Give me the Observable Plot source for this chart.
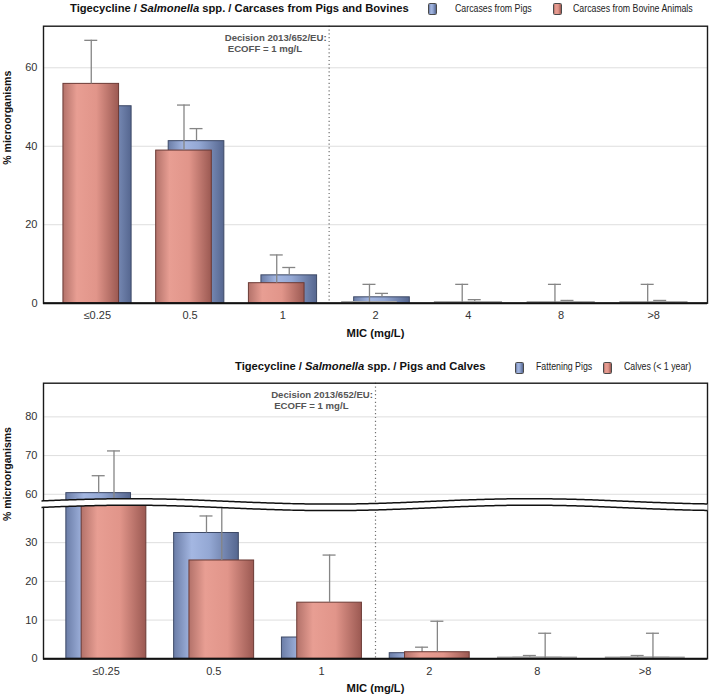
<!DOCTYPE html>
<html>
<head>
<meta charset="utf-8">
<script src="https://cdn.jsdelivr.net/npm/d3@7"></script>
<script src="https://cdn.jsdelivr.net/npm/@observablehq/plot@0.6"></script>
<style>
  html, body { margin: 0; padding: 0; background: #fff; overflow: hidden; }
  #root { position: relative; width: 709px; height: 698px; font-family: "Liberation Sans", Arial, sans-serif; }
  .title { position: absolute; font-weight: bold; font-size: 11.2px; line-height: 11.2px; color: #111; white-space: nowrap; }
  .leg { position: absolute; color: #222; white-space: nowrap; transform-origin: 0 50%; }
  .sw { position: absolute; width: 7px; height: 10px; border: 1px solid #4a4a4a; border-radius: 1.5px; }
</style>
</head>
<body>
<div id="root"></div>
<script>
// ---------------- data ----------------
const micTop = ["≤0.25", "0.5", "1", "2", "4", "8", ">8"];
const carcPigs        = [50.2, 41.3, 7.1, 1.5, 0, 0, 0];
const carcPigsUpper   = [53.0, 44.5, 9.1, 2.5, 0.9, 0.7, 0.7];
const carcBovine      = [55.9, 38.9, 5.1, 0, 0, 0, 0];
const carcBovineUpper = [67.0, 50.5, 12.3, 4.8, 4.8, 4.8, 4.8];
const yTicksTop = [0, 20, 40, 60];

const micBottom = ["≤0.25", "0.5", "1", "2", "8", ">8"];
const fattPigs      = [60.3, 32.5, 5.5, 1.45, 0, 0];
const fattPigsUpper = [64.8, 36.9, 10.0, 3.0, 0.85, 0.85];
const calves        = [57.8, 25.4, 14.5, 1.7, 0, 0];
const calvesUpper   = [71.2, 44.0, 26.8, 9.7, 6.6, 6.6];
const yTicksBottom = [0, 10, 20, 30, 60, 70, 80];
const axisBreak = [39.5, 57];   // hidden value range of the broken axis

const titleTopText = ["Tigecycline / ", "Salmonella", " spp. / Carcases from Pigs and Bovines"];
const titleBottomText = ["Tigecycline / ", "Salmonella", " spp. / Pigs and Calves"];
const legendTop = ["Carcases from Pigs", "Carcases from Bovine Animals"];
const legendBottom = ["Fattening Pigs", "Calves (< 1 year)"];
const ecoffLines = ["Decision 2013/652/EU:", "ECOFF = 1 mg/L"];
const xLabel = "MIC (mg/L)";
const yLabel = "% microorganisms";

// ---------------- style ----------------
const W = 709, ML = 43, MR = 2, PO = 0.08;
const colors = {
  blue: { stops: [[0, "#6b7da7"], [0.28, "#a4b7e2"], [0.55, "#94a8d4"], [1, "#55668f"]], stroke: "#3d4966" },
  red:  { stops: [[0, "#b3726a"], [0.25, "#e89e93"], [0.6, "#e1958a"], [1, "#9b5952"]], stroke: "#6b3a35" }
};
const cssGrad = c => `linear-gradient(to right, ${colors[c].stops.map(([o, col]) => `${col} ${o * 100}%`).join(", ")})`;
const root = document.getElementById("root");

// broken-axis transform (identity when no break)
function makeBreak(b) {
  if (!b) return { f: v => v, inv: v => v };
  const [a, c] = b, gap = c - a;
  return {
    f: v => v <= a ? v : v < c ? a : v - gap,
    inv: t => t <= a ? t : t + gap
  };
}

function buildPanel({ mic, layers, yTicks, height, marginTop, marginBottom, yMax, prefix, brk }) {
  const n = mic.length;
  const step = (W - ML - MR) / (n + 2 * PO);
  const B = makeBreak(brk);
  const marks = [
    Plot.ruleY(yTicks.filter(t => t > 0), { y: d => B.f(d), stroke: "#dedede", strokeWidth: 1 }),
    Plot.ruleX(["1"], { dx: step / 2, stroke: "#707070", strokeWidth: 1.2, strokeDasharray: "1.2,2.6" })
  ];
  for (const L of layers) {
    const rows = mic.map((m, i) => ({ mic: m, value: L.values[i], upper: L.upper[i] }));
    const dx = L.offset * step;
    marks.push(
      Plot.barY(rows.filter(d => d.value > 0), {
        x: "mic", y1: 0, y2: d => B.f(d.value), fill: `url(#${prefix}${L.color})`, stroke: colors[L.color].stroke,
        strokeWidth: 1, insetLeft: 0.2 * step, insetRight: 0.2 * step, dx
      }),
      Plot.tickY(rows.filter(d => d.value === 0), {
        x: "mic", y: 0, stroke: "#a8a8a8", strokeWidth: 1.5, insetLeft: 0.2 * step, insetRight: 0.2 * step, dx, dy: -1.5
      }),
      Plot.ruleX(rows, { x: "mic", y1: d => B.f(d.value), y2: d => B.f(d.upper), stroke: "#858585", strokeWidth: 1.3, dx }),
      Plot.tickY(rows, { x: "mic", y: d => B.f(d.upper), stroke: "#858585", strokeWidth: 1.3, inset: step / 2 - 6.5, dx })
    );
  }
  marks.push(
    Plot.frame({ stroke: "#1a1a1a", strokeWidth: 1.4 }),
    Plot.ruleY([0], { stroke: "#111", strokeWidth: 2 }),
    Plot.text([ecoffLines[0]], { x: () => "1", text: d => d, frameAnchor: "top", textAnchor: "end",
      dx: step / 2 - 2.5, dy: 7.5, fontWeight: "bold", fill: "#555", fontSize: 9.6 }),
    Plot.text([ecoffLines[1]], { x: () => "1", text: d => d, frameAnchor: "top", textAnchor: "end",
      dx: step / 2 - 27, dy: 18.6, fontWeight: "bold", fill: "#555", fontSize: 9.6 }),
    Plot.text([yLabel], { text: d => d, frameAnchor: "left", rotate: -90, dx: -36, fontWeight: "bold", fontSize: 10.5, fill: "#111" }),
    Plot.text([xLabel], { text: d => d, frameAnchor: "bottom", dy: 33.3, fontWeight: "bold", fontSize: 11.2, fill: "#111" })
  );
  const plot = Plot.plot({
    width: W, height, marginLeft: ML, marginRight: MR, marginTop, marginBottom,
    style: { fontFamily: '"Liberation Sans", Arial, sans-serif', fontSize: "11px", color: "#333", background: "#fff", overflow: "visible" },
    x: { domain: mic, paddingInner: 0, paddingOuter: PO, round: false, tickSize: 0, tickPadding: 8, label: null },
    y: { domain: [0, B.f(yMax)], ticks: yTicks.map(B.f), tickFormat: t => String(Math.round(B.inv(t))),
         tickSize: 0, tickPadding: 6, label: null },
    marks
  });
  // gradients for the bars
  const defs = d3.select(plot).insert("defs", ":first-child");
  for (const c of ["blue", "red"]) {
    const g = defs.append("linearGradient").attr("id", prefix + c).attr("x1", 0).attr("x2", 1).attr("y1", 0).attr("y2", 0);
    for (const [o, col] of colors[c].stops) g.append("stop").attr("offset", o).attr("stop-color", col);
  }
  // axis break decoration
  if (brk) {
    const cy = plot.scale("y").apply(B.f(brk[0]));
    const xs = d3.range(ML - 1.5, W - MR + 1.5, 2);
    const up = x => cy - 4 - 2.7 * Math.cos(2 * Math.PI * (x - 130) / 400);
    const lo = x => up(x) + 6.5;
    const g = d3.select(plot).append("g");
    g.append("path").attr("d", d3.area().x(x => x).y0(up).y1(lo)(xs)).attr("fill", "#fff");
    g.append("path").attr("d", d3.line().x(x => x).y(up)(xs)).attr("fill", "none").attr("stroke", "#111").attr("stroke-width", 1.5);
    g.append("path").attr("d", d3.line().x(x => x).y(lo)(xs)).attr("fill", "none").attr("stroke", "#111").attr("stroke-width", 1.5);
  }
  return plot;
}

function addHeader(top, parts, titleLeft, legend, legendPos) {
  const t = document.createElement("div");
  t.className = "title";
  t.style.left = titleLeft + "px";
  t.style.top = top + "px";
  t.innerHTML = `${parts[0]}<i>${parts[1]}</i>${parts[2]}`;
  root.appendChild(t);
  legend.forEach((label, i) => {
    const p = legendPos[i];
    const sw = document.createElement("div");
    sw.className = "sw";
    sw.style.left = p.sw + "px";
    sw.style.top = (top + 0.5) + "px";
    sw.style.background = cssGrad(i === 0 ? "blue" : "red");
    root.appendChild(sw);
    const tx = document.createElement("div");
    tx.className = "leg";
    tx.style.left = p.tx + "px";
    tx.style.top = (top + 0.3) + "px";
    tx.style.fontSize = "10.6px";
    tx.style.lineHeight = "10.6px";
    tx.style.transform = "scaleX(0.83)";
    tx.textContent = label;
    root.appendChild(tx);
  });
}

// top panel
const p1 = buildPanel({
  mic: micTop,
  layers: [
    { values: carcPigs, upper: carcPigsUpper, color: "blue", offset: 0.07 },
    { values: carcBovine, upper: carcBovineUpper, color: "red", offset: -0.065 }
  ],
  yTicks: yTicksTop, height: 350, marginTop: 25.7, marginBottom: 47.3, yMax: 70.6, prefix: "gA"
});
p1.style.position = "absolute"; p1.style.left = "0px"; p1.style.top = "0px";
root.appendChild(p1);

// bottom panel (broken axis)
const p2 = buildPanel({
  mic: micBottom,
  layers: [
    { values: fattPigs, upper: fattPigsUpper, color: "blue", offset: -0.068 },
    { values: calves, upper: calvesUpper, color: "red", offset: 0.074 }
  ],
  yTicks: yTicksBottom, height: 348, marginTop: 32.7, marginBottom: 39.7, yMax: 88.7, prefix: "gB", brk: axisBreak
});
p2.style.position = "absolute"; p2.style.left = "0px"; p2.style.top = "350px";
root.appendChild(p2);

addHeader(2.5, titleTopText, 70, legendTop, [{ sw: 427.5, tx: 455 }, { sw: 553, tx: 573 }]);
addHeader(361, titleBottomText, 235, legendBottom, [{ sw: 514.5, tx: 536 }, { sw: 603, tx: 623.5 }]);
</script>
</body>
</html>
